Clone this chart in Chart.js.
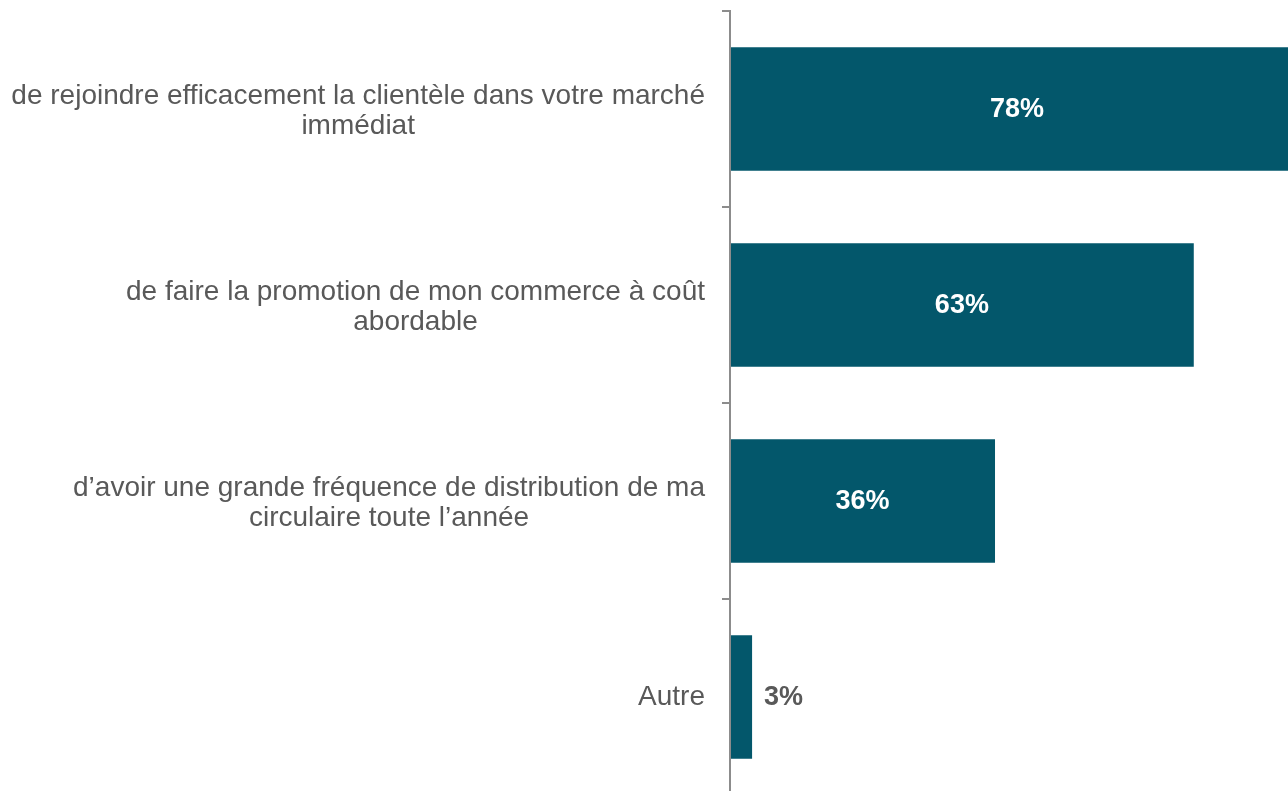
<!DOCTYPE html>
<html>
<head>
<meta charset="utf-8">
<script src="https://cdn.jsdelivr.net/npm/chart.js@4/dist/chart.umd.min.js"></script>
<style>
  html, body { margin: 0; padding: 0; background: #fff; overflow: hidden; }
  canvas { display: block; }
</style>
</head>
<body>
<canvas id="chart" width="1288" height="795"></canvas>
<script>
// data
var categories = [
  ["de rejoindre efficacement la clientèle dans votre marché", "immédiat"],
  ["de faire la promotion de mon commerce à coût", "abordable"],
  ["d’avoir une grande fréquence de distribution de ma", "circulaire toute l’année"],
  ["Autre"]
];
var values = [78, 63, 36, 3];

var barColor = '#03576b';
var textColor = '#595959';
var axisColor = '#8c8c8c';
var fontFamily = '"Liberation Sans", Arial, sans-serif';

// category labels: right aligned block, lines centred inside it
var labelPlugin = {
  id: 'catLabels',
  afterDraw: function (chart) {
    var ctx = chart.ctx;
    var yScale = chart.scales.y;
    ctx.save();
    ctx.font = '28px ' + fontFamily;
    ctx.fillStyle = textColor;
    ctx.textAlign = 'center';
    ctx.textBaseline = 'middle';
    var right = 705, lh = 30;
    categories.forEach(function (lines, i) {
      var w = 0;
      lines.forEach(function (l) { w = Math.max(w, ctx.measureText(l).width); });
      var cy = yScale.getPixelForValue(i);
      var y0 = cy - (lines.length - 1) * lh / 2 + (lines.length > 1 ? 2 : 0);
      lines.forEach(function (l, j) {
        ctx.fillText(l, right - w / 2, y0 + j * lh);
      });
    });
    ctx.restore();
  }
};

// value labels on the bars
var valuePlugin = {
  id: 'valLabels',
  afterDatasetsDraw: function (chart) {
    var ctx = chart.ctx;
    var meta = chart.getDatasetMeta(0);
    ctx.save();
    ctx.font = 'bold 27px ' + fontFamily;
    ctx.textBaseline = 'middle';
    meta.data.forEach(function (bar, i) {
      var txt = values[i] + '%';
      if (values[i] > 10) {
        ctx.fillStyle = '#ffffff';
        ctx.textAlign = 'center';
        ctx.fillText(txt, (bar.x + bar.base) / 2, bar.y + 1);
      } else {
        ctx.fillStyle = textColor;
        ctx.textAlign = 'left';
        ctx.fillText(txt, bar.x + 12, bar.y + 1);
      }
    });
    ctx.restore();
  }
};

new Chart(document.getElementById('chart'), {
  type: 'bar',
  data: {
    labels: categories,
    datasets: [{
      data: values,
      backgroundColor: barColor,
      borderWidth: 0,
      barPercentage: 1,
      categoryPercentage: 0.63
    }]
  },
  options: {
    indexAxis: 'y',
    responsive: false,
    animation: false,
    layout: { padding: { top: 11, right: 0, bottom: 0, left: 0 } },
    plugins: {
      legend: { display: false },
      tooltip: { enabled: false }
    },
    scales: {
      x: {
        display: false,
        min: 0,
        max: 75.8
      },
      y: {
        afterFit: function (scale) { scale.width = 730; },
        ticks: { display: false },
        grid: {
          drawOnChartArea: false,
          drawTicks: true,
          tickLength: 8,
          color: axisColor,
          lineWidth: 2,
          offset: true
        },
        border: { display: true, color: axisColor, width: 2, z: 1 }
      }
    }
  },
  plugins: [labelPlugin, valuePlugin]
});
</script>
</body>
</html>
